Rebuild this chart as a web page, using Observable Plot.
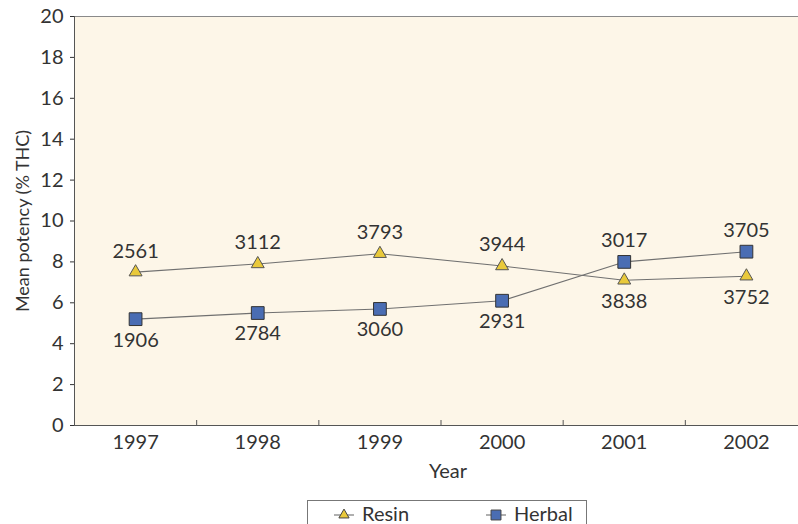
<!DOCTYPE html>
<html>
<head>
<meta charset="utf-8">
<script src="https://cdn.jsdelivr.net/npm/d3@7"></script>
<script src="https://cdn.jsdelivr.net/npm/@observablehq/plot@0.6"></script>
<style>
  html, body { margin: 0; padding: 0; background: #fff; overflow: hidden; }
  body { width: 798px; height: 524px; font-family: Lato, "DejaVu Sans", sans-serif; color: #333; position: relative; }
  #chart { width: 807px; }
  #chart svg { display: block; max-width: none !important; }
  .legend {
    position: absolute; left: 307px; top: 500px; width: 280px; height: 40px;
    border: 1px solid #777; box-sizing: border-box;
    font-size: 20px; color: #333;
  }
  .legend .item { position: absolute; top: 0; height: 24px; display: flex; align-items: center; white-space: nowrap; }
  .legend svg { display: block; margin-right: 6px; }
</style>
</head>
<body>
<div id="chart"></div>
<div class="legend" id="legend"></div>
<script>
// Mean THC potency of seized cannabis, with number of samples tested per year
const years = [1997, 1998, 1999, 2000, 2001, 2002];
const resinPotency = [7.5, 7.9, 8.4, 7.8, 7.1, 7.3];
const herbalPotency = [5.2, 5.5, 5.7, 6.1, 8.0, 8.5];
const resinSamples = [2561, 3112, 3793, 3944, 3838, 3752];
const herbalSamples = [1906, 2784, 3060, 2931, 3017, 3705];
const yTicks = [0, 2, 4, 6, 8, 10, 12, 14, 16, 18, 20];

const seriesStyle = {
  Resin: {symbol: "triangle", r: 4.8, fill: "#e9c93b"},
  Herbal: {symbol: "square", r: 7.2, fill: "#4a6db3"}
};

const resin = years.map((year, i) => ({
  year, type: "Resin", potency: resinPotency[i], n: resinSamples[i],
  above: resinPotency[i] >= herbalPotency[i]
}));
const herbal = years.map((year, i) => ({
  year, type: "Herbal", potency: herbalPotency[i], n: herbalSamples[i],
  above: herbalPotency[i] > resinPotency[i]
}));
const all = resin.concat(herbal);

// category boundaries between years
const bounds = years.slice(1).map(y => y - 0.5);

const marginTop = 16, marginBottom = 69, height = 494;

const chart = Plot.plot({
  width: 807,
  height,
  marginLeft: 74,
  marginRight: 0,
  marginTop,
  marginBottom,
  style: {fontFamily: "Lato, 'DejaVu Sans', sans-serif", fontSize: "18px", color: "#333", background: "transparent"},
  x: {domain: [years[0] - 0.5, years[years.length - 1] + 0.5]},
  y: {domain: [0, 20]},
  marks: [
    Plot.frame({fill: "#fdf6e8", stroke: "#8a8a8a"}),
    Plot.ruleY([0], {stroke: "#555"}),
    Plot.ruleX([years[0] - 0.5], {stroke: "#555"}),
    Plot.tickX(bounds, {x: d => d, stroke: "#555", insetTop: height - marginTop - marginBottom - 5}),
    Plot.axisY({ticks: yTicks, tickSize: 4, tickPadding: 7, fontSize: 20, label: null}),
    Plot.axisY({ticks: [], tickSize: 0, fontSize: 18, label: "Mean potency (% THC)",
      labelAnchor: "center", labelOffset: 58, labelArrow: "none"}),
    Plot.axisX({ticks: years, tickSize: 0, tickPadding: 9, fontSize: 20, tickFormat: d => String(d), label: null}),
    Plot.text(["Year"], {frameAnchor: "bottom", dy: 52, dx: 7, fontSize: 20, fill: "#333"}),
    Plot.line(resin, {x: "year", y: "potency", stroke: "#707070", strokeWidth: 1.1}),
    Plot.line(herbal, {x: "year", y: "potency", stroke: "#707070", strokeWidth: 1.1}),
    Plot.dot(resin, {x: "year", y: "potency", symbol: "triangle", r: seriesStyle.Resin.r, fill: seriesStyle.Resin.fill, stroke: "#555", strokeWidth: 1}),
    Plot.dot(herbal, {x: "year", y: "potency", symbol: "square", r: seriesStyle.Herbal.r, fill: seriesStyle.Herbal.fill, stroke: "#333", strokeWidth: 1}),
    Plot.text(all.filter(d => d.above), {x: "year", y: "potency", text: d => String(d.n), dy: -21, fontSize: 20, fill: "#333"}),
    Plot.text(all.filter(d => !d.above), {x: "year", y: "potency", text: d => String(d.n), dy: 21, fontSize: 20, fill: "#333"})
  ]
});
document.getElementById("chart").appendChild(chart);

// legend: symbol with a short line through it, then the series name
const legend = d3.select("#legend");
const legendLeft = {Resin: 24, Herbal: 176};
["Resin", "Herbal"].forEach((name, idx) => {
  const st = seriesStyle[name];
  const item = legend.append("div").attr("class", "item").style("left", legendLeft[name] + "px");
  const svg = item.append("svg").attr("width", 24).attr("height", 22);
  svg.append("line").attr("x1", 2).attr("x2", 22).attr("y1", 13).attr("y2", 13)
    .attr("stroke", "#707070").attr("stroke-width", 1.1);
  const r = idx === 0 ? 3.8 : 5.6;
  svg.append("path")
    .attr("transform", "translate(12,13)")
    .attr("d", d3.symbol(st.symbol === "triangle" ? d3.symbolTriangle : d3.symbolSquare, Math.PI * r * r)())
    .attr("fill", st.fill).attr("stroke", "#444");
  item.append("span").text(name);
});
</script>
</body>
</html>
